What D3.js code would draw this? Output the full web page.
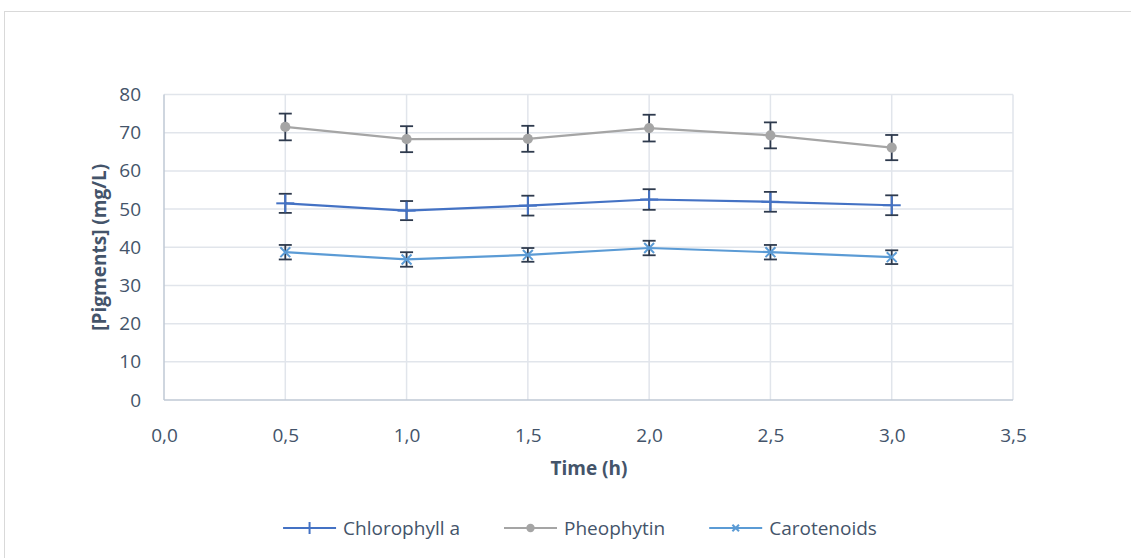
<!DOCTYPE html>
<html>
<head>
<meta charset="utf-8">
<script src="https://cdn.jsdelivr.net/npm/d3@7"></script>
<style>
  html, body { margin: 0; padding: 0; background: #fff; }
  svg { display: block; font-family: "Open Sans", "Noto Sans", sans-serif; }
</style>
</head>
<body>
<svg id="chart" width="1131" height="558"></svg>
<script>
// ---- data ----
const times = [0.5, 1.0, 1.5, 2.0, 2.5, 3.0];
const chlorophyll = [51.5, 49.6, 50.9, 52.5, 51.9, 51.0];
const chlorophyllErr = [2.5, 2.5, 2.6, 2.7, 2.6, 2.6];
const pheophytin = [71.5, 68.3, 68.4, 71.2, 69.3, 66.1];
const pheophytinErr = [3.5, 3.4, 3.4, 3.5, 3.4, 3.3];
const carotenoids = [38.7, 36.8, 38.0, 39.8, 38.7, 37.4];
const carotenoidsErr = [1.9, 1.9, 1.8, 1.9, 1.9, 1.8];
const xTicks = [0, 0.5, 1.0, 1.5, 2.0, 2.5, 3.0, 3.5];
const yTicks = [0, 10, 20, 30, 40, 50, 60, 70, 80];
const seriesNames = ["Chlorophyll a", "Pheophytin", "Carotenoids"];

const series = [
  { name: seriesNames[0], values: chlorophyll, err: chlorophyllErr, color: "#4472C4", marker: "plus" },
  { name: seriesNames[1], values: pheophytin, err: pheophytinErr, color: "#A5A5A5", marker: "circle" },
  { name: seriesNames[2], values: carotenoids, err: carotenoidsErr, color: "#5B9BD5", marker: "x" }
];

const svg = d3.select("#chart");
const textColor = "#44546A";
const errColor = "#2E3A4D";
const fs = 19;

// chart frame
svg.append("rect").attr("x", 4.5).attr("y", 11.5).attr("width", 1140).attr("height", 560)
  .attr("fill", "none").attr("stroke", "#D9D9D9").attr("stroke-width", 1);

const x = d3.scaleLinear().domain([0, 3.5]).range([164, 1013]);
const y = d3.scaleLinear().domain([0, 80]).range([400, 94.5]);

// gridlines
const g = svg.append("g");
g.selectAll(".hg").data(yTicks.filter(d => d > 0)).enter().append("line")
  .attr("x1", x(0)).attr("x2", x(3.5))
  .attr("y1", d => y(d)).attr("y2", d => y(d))
  .attr("stroke", "#E1E5EB").attr("stroke-width", 1.5);
g.selectAll(".vg").data(xTicks.filter(d => d > 0)).enter().append("line")
  .attr("x1", d => x(d)).attr("x2", d => x(d))
  .attr("y1", y(0)).attr("y2", y(80))
  .attr("stroke", "#E1E5EB").attr("stroke-width", 1.5);

// axes lines
svg.append("line").attr("x1", x(0)).attr("x2", x(0)).attr("y1", y(0)).attr("y2", y(80))
  .attr("stroke", "#BFC8D4").attr("stroke-width", 1.5);
svg.append("line").attr("x1", x(0)).attr("x2", x(3.5)).attr("y1", y(0)).attr("y2", y(0))
  .attr("stroke", "#BFC8D4").attr("stroke-width", 1.5);

// tick labels via d3 axes
const fmtX = d => d3.format(".1f")(d).replace(".", ",");
const xAxis = d3.axisBottom(x).tickValues(xTicks).tickFormat(fmtX).tickSize(0).tickPadding(0);
const gx = svg.append("g").attr("transform", `translate(0,${y(0) + 28})`).call(xAxis);
gx.select(".domain").remove();
gx.selectAll("text").attr("fill", textColor).attr("font-size", fs).attr("dy", "0.71em");

const yAxis = d3.axisLeft(y).tickValues(yTicks).tickSize(0).tickPadding(0);
const gy = svg.append("g").attr("transform", `translate(${x(0) - 23},0)`).call(yAxis);
gy.select(".domain").remove();
gy.selectAll("text").attr("fill", textColor).attr("font-size", fs);
gx.attr("font-family", null); gy.attr("font-family", null);

// axis titles
svg.append("text").attr("x", 589).attr("y", 475).attr("text-anchor", "middle")
  .attr("font-size", fs).attr("font-weight", "bold").attr("fill", textColor).text("Time (h)");
svg.append("text").attr("transform", `translate(106,${(y(0) + y(80)) / 2}) rotate(-90)`)
  .attr("text-anchor", "middle").attr("font-size", fs).attr("font-weight", "bold")
  .attr("fill", textColor).text("[Pigments] (mg/L)");

// lines
const line = d3.line().x(d => x(d[0])).y(d => y(d[1]));
series.forEach(s => {
  const pts = times.map((t, i) => [t, s.values[i]]);
  svg.append("path").datum(pts).attr("d", line).attr("fill", "none")
    .attr("stroke", s.color).attr("stroke-width", 2.2);
});

function drawMarker(sel, type, color, cx, cy, size) {
  if (type === "circle") {
    sel.append("circle").attr("cx", cx).attr("cy", cy).attr("r", size * 0.6).attr("fill", color);
  } else if (type === "plus") {
    sel.append("line").attr("x1", cx - size).attr("x2", cx + size).attr("y1", cy).attr("y2", cy)
      .attr("stroke", color).attr("stroke-width", 2);
    sel.append("line").attr("x1", cx).attr("x2", cx).attr("y1", cy - size).attr("y2", cy + size)
      .attr("stroke", color).attr("stroke-width", 2);
  } else if (type === "x") {
    const h = size * 0.55;
    sel.append("path").attr("d", `M${cx - h},${cy - h}L${cx + h},${cy + h}M${cx - h},${cy + h}L${cx + h},${cy - h}`)
      .attr("stroke", color).attr("stroke-width", 2).attr("fill", "none");
  }
}

// error bars and markers
series.forEach(s => {
  const eg = svg.append("g");
  times.forEach((t, i) => {
    const cx = x(t), top = y(s.values[i] + s.err[i]), bot = y(s.values[i] - s.err[i]);
    eg.append("line").attr("x1", cx).attr("x2", cx).attr("y1", top).attr("y2", bot)
      .attr("stroke", errColor).attr("stroke-width", 1.8);
    [top, bot].forEach(yy => eg.append("line").attr("x1", cx - 6.5).attr("x2", cx + 6.5)
      .attr("y1", yy).attr("y2", yy).attr("stroke", errColor).attr("stroke-width", 1.8));
  });
  const mg = svg.append("g");
  times.forEach((t, i) => {
    const size = s.marker === "plus" ? 9 : (s.marker === "circle" ? 8.5 : 9);
    drawMarker(mg, s.marker, s.color, x(t), y(s.values[i]), size);
  });
});

// legend
const ly = 528, lineLen = 53, gapText = 7, gapItem = 44;
const legend = svg.append("g");
let cursor = 0;
series.forEach((s, i) => {
  const lg = legend.append("g");
  lg.append("line").attr("x1", cursor).attr("x2", cursor + lineLen).attr("y1", ly).attr("y2", ly)
    .attr("stroke", s.color).attr("stroke-width", 2.2);
  drawMarker(lg, s.marker, s.color, cursor + lineLen / 2, ly, s.marker === "circle" ? 7 : 6);
  const t = lg.append("text").attr("x", cursor + lineLen + gapText).attr("y", ly).attr("dy", "0.35em")
    .attr("font-size", fs).attr("fill", textColor).text(s.name);
  cursor += lineLen + gapText + t.node().getComputedTextLength() + gapItem;
});
const total = cursor - gapItem;
legend.attr("transform", `translate(${580 - total / 2},0)`);
</script>
</body>
</html>
